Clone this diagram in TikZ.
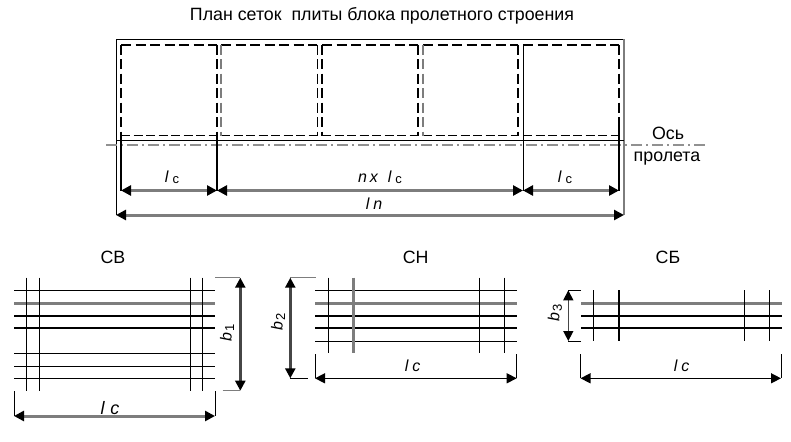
\documentclass[tikz,border=0pt]{standalone}
\usepackage{fontspec}
\setmainfont{Liberation Sans}
\usepackage{xcolor}
\definecolor{BarGray}{RGB}{125,125,125}
\definecolor{AxisGray}{RGB}{145,145,145}
\definecolor{DimGray}{RGB}{70,70,70}
\usetikzlibrary{
  positioning,
  arrows.meta
}
\tikzset{
  % Bars of the meshes
  thinbar/.style={draw=black, line width=1pt},
  thickbar/.style={draw=black, line width=2pt},
  graybar/.style={draw=BarGray, line width=3pt},
  % Dimension lines
  dimline/.style={
    draw=BarGray,
    line width=3pt,
    {Triangle[length=10pt,width=10pt,color=black]}-{Triangle[length=10pt,width=10pt,color=black]}
  },
  thindim/.style={
    draw=black,
    line width=1.4pt,
    {Triangle[length=10pt,width=10pt,color=black]}-{Triangle[length=10pt,width=10pt,color=black]}
  },
  extline/.style={draw=black, line width=1pt},
  gextline/.style={draw=BarGray, line width=1.2pt},
  % Dashed mesh outline
  meshtop/.style={draw=black, line width=1.8pt, dash pattern=on 10pt off 4.5pt},
  meshlow/.style={draw=black, line width=0.9pt, dash pattern=on 9pt off 3.5pt},
  % Span axis
  axisline/.style={draw=AxisGray, line width=2.2pt, dash pattern=on 11pt off 4pt on 2pt off 4pt},
  % Labels
  ttext/.style={font=\fontsize{17.8}{20}\selectfont, inner sep=0pt},
  dimtext/.style={font=\fontsize{16}{19}\selectfont\itshape, inner sep=0pt}
}
\newcommand{\lensub}[1]{$\mathit{l}$\kern4pt{\upshape\fontsize{13}{15}\selectfont\raisebox{-1pt}{#1}}}
\newcommand{\widsub}[1]{$\mathit{b}$\kern0.5pt{\upshape\fontsize{13}{15}\selectfont\raisebox{-2.5pt}{#1}}}
\begin{document}
\begin{tikzpicture}[x=1pt, y=-1pt]
  \useasboundingbox (0,0) rectangle (791,441);
  \node[ttext] (title) at (382,16) {План сеток\ \ плиты блока пролетного строения};

  % Outline of the slab
  \coordinate (tl) at (116,39.5);
  \coordinate (tr) at (624,39.5);
  \coordinate (bl) at (116,215);
  \coordinate (br) at (624,215);
  \draw[extline] (bl) -- (tl) -- (tr);
  \draw[gextline, line width=2.4pt] (tr) -- (br);
  \draw[dimline] (bl) -- (br);

  % Mesh outlines, tops and bottoms
  \foreach \xa/\xb in {121/217, 221/317, 322/418, 423/518, 523/619} {
    \draw[meshtop] (\xa,44.7) -- (\xb,44.7);
    \draw[meshlow] (\xa,135.7) -- (\xb,135.7);
  }
  % Mesh outlines, sides
  \foreach \xa/\col/\wid in {217/black/1.2, 221/BarGray/2.6, 317/black/1,
    322/black/2, 418/black/2, 423/BarGray/2.6, 518/black/2, 619/black/2} {
    \draw[draw=\col, line width=\wid pt, dash pattern=on 10pt off 4.5pt] (\xa,44.7) -- (\xa,135.7);
  }

  % Axis of the span
  \coordinate (axl) at (116,140.3);
  \coordinate (axr) at (624,140.3);
  \draw[extline] (axl) -- (axr);
  \coordinate (ccl) at (106,145.3);
  \coordinate (ccr) at (708,145.3);
  \draw[axisline] (ccl) -- (ccr);
  \node[ttext] (axis1) at (668,133.5) {Ось};
  \node[ttext] (axis2) at (667,158.5) {пролета};

  % Plan dimensions
  \coordinate (d1) at (121,190.5);
  \coordinate (d2) at (217,190.5);
  \coordinate (d3) at (523,190.5);
  \coordinate (d4) at (619,190.5);
  \draw[draw=black, line width=1.6pt, dash pattern=on 10pt off 4.5pt] (121,44.7) -- (121,140.3);
  \draw[thickbar] (121,140.3) -- (d1);
  \draw[draw=black, line width=1.2pt] (217,135.7) -- (d2);
  \draw[extline] (523,44.7) -- (d3);
  \draw[thickbar] (619,120) -- (d4);
  \draw[dimline] (d1) -- (d2);
  \draw[dimline] (d2) -- (d3);
  \draw[dimline] (d3) -- (d4);
  \node[dimtext] (lc1) at (172,177) {\lensub{c}};
  \node[dimtext] (lc2) at (380,177) {$\mathit{n}$\kern3pt x\kern10pt\lensub{c}};
  \node[dimtext] (lc3) at (565,177) {\lensub{c}};
  \node[dimtext] (ln) at (374,204) {$\mathit{l}$\kern4pt n};

  % Mesh CB
  \node[ttext] (cb) at (113,257) {СВ};
  \foreach \y/\sty in {290.3/thinbar, 303.3/graybar, 316/thickbar, 327.7/thickbar,
    353.3/thinbar, 366.3/thinbar, 378.3/thinbar} {
    \draw[\sty] (14,\y) -- (215,\y);
  }
  \foreach \x in {26.3, 39.3, 190.3, 202.3} {
    \draw[thinbar] (\x,277.7) -- (\x,390.7);
  }
  \coordinate (b1a) at (240.3,277.7);
  \coordinate (b1b) at (240.3,390.7);
  \draw[gextline] (215,277.7) -- (b1a);
  \draw[gextline] (222.7,390.7) -- (b1b);
  \draw[dimline, draw=DimGray, line width=2.4pt] (b1a) -- (b1b);
  \node[dimtext, rotate=90] (b1) at (227,333) {\widsub{1}};
  \coordinate (e1a) at (14,416);
  \coordinate (e1b) at (215,416);
  \draw[extline] (14,391) -- (e1a);
  \draw[extline] (215,391) -- (e1b);
  \draw[dimline] (e1a) -- (e1b);
  \node[dimtext, font=\fontsize{18}{20}\selectfont\itshape] (lcb) at (110,408) {$\mathit{l}$\kern6pt c};

  % Mesh CH
  \node[ttext] (ch) at (415.7,257) {СН};
  \foreach \y/\sty in {290.3/thinbar, 303.3/graybar, 316/thickbar, 327.7/thickbar, 341.3/thinbar} {
    \draw[\sty] (315,\y) -- (516.7,\y);
  }
  \foreach \x/\sty in {328.3/thinbar, 353.3/graybar, 479.3/thinbar, 504.3/thinbar} {
    \draw[\sty] (\x,277.7) -- (\x,353.3);
  }
  \coordinate (b2a) at (290.3,277.7);
  \coordinate (b2b) at (290.3,378.3);
  \draw[gextline] (315.7,277.7) -- (b2a);
  \draw[extline] (307.7,378.3) -- (b2b);
  \draw[dimline, draw=DimGray, line width=2.4pt] (b2a) -- (b2b);
  \node[dimtext, rotate=90] (b2) at (278,322) {\widsub{2}};
  \coordinate (e2a) at (315,378.3);
  \coordinate (e2b) at (516.7,378.3);
  \draw[extline] (315,354) -- (e2a);
  \draw[extline] (516.7,354) -- (e2b);
  \draw[thindim] (e2a) -- (e2b);
  \node[dimtext] (lch) at (412.7,366) {$\mathit{l}$\kern4pt c};

  % Mesh CB (lower bars only)
  \node[ttext] (cbb) at (668,257) {СБ};
  \foreach \y/\sty in {303.3/graybar, 316/thickbar, 327.7/thickbar} {
    \draw[\sty] (581,\y) -- (781.7,\y);
  }
  \foreach \x/\sty in {593.3/thinbar, 619/thickbar, 744.3/thinbar, 769.3/thinbar} {
    \draw[\sty] (\x,290.3) -- (\x,341);
  }
  \coordinate (b3a) at (568.3,290.3);
  \coordinate (b3b) at (568.3,341);
  \draw[extline] (581,290.3) -- (b3a);
  \draw[extline] (581,341) -- (b3b);
  \draw[thindim, draw=DimGray] (b3a) -- (b3b);
  \node[dimtext, rotate=90] (b3) at (555,312.7) {\widsub{3}};
  \coordinate (e3a) at (580.5,378.3);
  \coordinate (e3b) at (781,378.3);
  \draw[extline] (580.5,354) -- (e3a);
  \draw[extline] (781,354) -- (e3b);
  \draw[thindim] (e3a) -- (e3b);
  \node[dimtext] (lcc) at (681.7,366) {$\mathit{l}$\kern4pt c};
\end{tikzpicture}
\end{document}
